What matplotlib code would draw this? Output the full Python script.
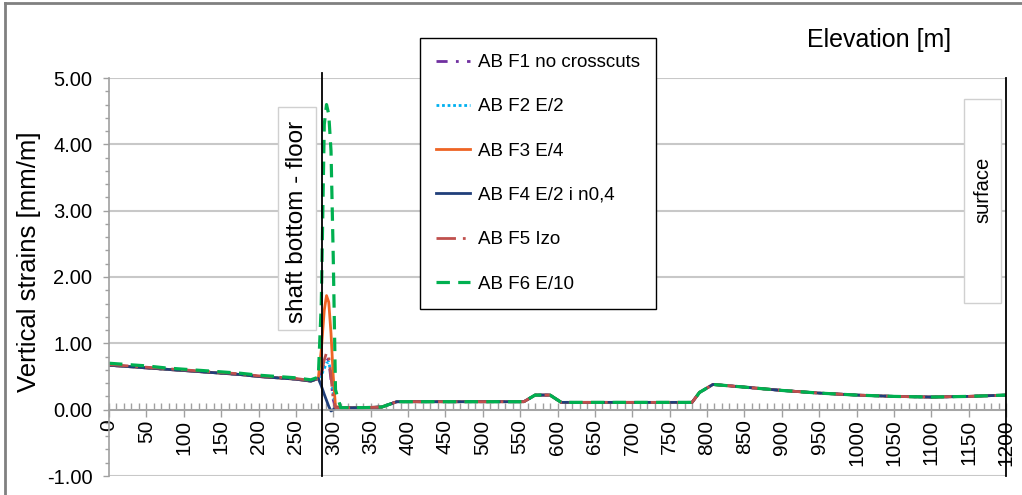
import matplotlib
matplotlib.use("Agg")
import matplotlib.pyplot as plt
from matplotlib.patches import Rectangle
from matplotlib.lines import Line2D
from matplotlib.ticker import MultipleLocator, FormatStrFormatter

plt.rcParams['font.family'] = ['Liberation Sans', 'DejaVu Sans']

# ---------------- data ----------------
elevation = [0, 25, 50, 75, 100, 125, 150, 175, 200, 225, 250, 270, 280,
             284, 288, 291, 294, 297, 300, 303,
             310, 340, 365, 385, 450, 555, 570, 590, 605, 700, 780, 790, 808,
             850, 900, 950, 1000, 1050, 1100, 1150, 1200]

left_part = [0.67, 0.65, 0.63, 0.61, 0.59, 0.57, 0.55, 0.53, 0.50, 0.48, 0.46, 0.43, 0.47]
left_f5 = [0.68, 0.66, 0.64, 0.62, 0.60, 0.58, 0.56, 0.54, 0.51, 0.49, 0.47, 0.44, 0.47]
left_f6 = [0.70, 0.68, 0.66, 0.63, 0.61, 0.59, 0.57, 0.55, 0.52, 0.50, 0.48, 0.45, 0.49]

tail = [0.03, 0.03, 0.04, 0.12, 0.12, 0.12, 0.22, 0.22, 0.11, 0.11, 0.11, 0.26, 0.38,
        0.34, 0.29, 0.25, 0.22, 0.20, 0.19, 0.20, 0.22]

peak_f1 = [0.55, 0.70, 0.78, 0.74, 0.45, 0.15, 0.03]
peak_f2 = [0.52, 0.62, 0.70, 0.72, 0.55, 0.25, 0.03]
peak_f3 = [0.90, 1.50, 1.72, 1.62, 1.15, 0.50, 0.05]
peak_f4 = [0.36, 0.23, 0.14, 0.05, -0.02, 0.00, 0.03]
peak_f5 = [0.55, 0.75, 0.86, 0.80, 0.50, 0.15, 0.03]
peak_f6 = [1.60, 4.30, 4.60, 4.45, 3.90, 2.30, 0.30]

series_names = ["AB F1 no crosscuts", "AB F2 E/2", "AB F3 E/4",
                "AB F4 E/2 i n0,4", "AB F5 Izo", "AB F6 E/10"]
f1 = left_part + peak_f1 + tail
f2 = left_part + peak_f2 + tail
f3 = left_part + peak_f3 + tail
f4 = left_part + peak_f4 + tail
f5 = left_f5 + peak_f5 + tail
f6 = left_f6 + peak_f6 + tail

shaft_bottom = 285
surface = 1200

# ---------------- figure ----------------
fig = plt.figure(figsize=(10.22, 4.95), dpi=100)
ax = fig.add_axes([109 / 1022, 1 - 476 / 495, (1006 - 109) / 1022, (476 - 78) / 495])

styles = [
    dict(color="#7030A0", linestyle=(0, (4, 3, 1, 3)), lw=2.0),
    dict(color="#00B0F0", linestyle=(0, (1, 1)), lw=2.0),
    dict(color="#EE6424", linestyle="-", lw=2.0),
    dict(color="#203F7A", linestyle="-", lw=2.0),
    dict(color="#C0504D", linestyle=(0, (7, 2.5, 1, 2.5)), lw=2.0),
    dict(color="#00B050", linestyle=(0, (4.2, 2.6)), lw=2.3),
]
handles = []
for ys, name, st in zip([f1, f2, f3, f4, f5, f6], series_names, styles):
    ln, = ax.plot(elevation, ys, label=name, **st)
    handles.append(ln)

ax.set_xlim(0, 1200)
ax.set_ylim(-1, 5)

ax.yaxis.set_major_locator(MultipleLocator(1))
ax.yaxis.set_minor_locator(MultipleLocator(0.2))
ax.yaxis.set_major_formatter(FormatStrFormatter('%.2f'))
ax.xaxis.set_major_locator(MultipleLocator(50))
ax.xaxis.set_minor_locator(MultipleLocator(10))

ax.spines['top'].set_visible(False)
ax.spines['right'].set_visible(False)
ax.spines['bottom'].set_position(('data', 0))
for s in ('left', 'bottom'):
    ax.spines[s].set_color('#A0A0A0')
    ax.spines[s].set_linewidth(1.2)

ax.grid(axis='y', which='major', color='#C8C8C8', lw=1.5)
ax.set_axisbelow(True)

ax.tick_params(axis='y', which='major', direction='out', length=4, width=1, color='#A0A0A0',
               labelsize=14.5, pad=8)
ax.tick_params(axis='y', which='minor', direction='out', length=3, width=1, color='#A0A0A0')
ax.tick_params(axis='x', which='major', direction='inout', length=10, width=1, color='#A0A0A0',
               labelsize=15, pad=2, labelrotation=90)
ax.tick_params(axis='x', which='minor', direction='in', length=5, width=1, color='#A0A0A0')
for lab in ax.get_xticklabels():
    lab.set_verticalalignment('top')

# vertical reference lines
ax.axvline(shaft_bottom, ymin=0, ymax=1.012, color='black', lw=1.3, clip_on=False, zorder=5)
ax.axvline(surface, ymin=0, ymax=1.0, color='black', lw=1.3, clip_on=False, zorder=5)

# label boxes
fig.patches.append(Rectangle((278 / 1022, 1 - 330 / 495), 38 / 1022, 223 / 495,
                             transform=fig.transFigure, fill=True, facecolor='white',
                             edgecolor='#D0D0D0', lw=1, zorder=3))
fig.text(297 / 1022, 1 - 222 / 495, "shaft bottom - floor", rotation=90, fontsize=17.5,
         ha='center', va='center', zorder=4)
fig.patches.append(Rectangle((964 / 1022, 1 - 303 / 495), 37 / 1022, 204 / 495,
                             transform=fig.transFigure, fill=True, facecolor='white',
                             edgecolor='#D0D0D0', lw=1, zorder=3))
fig.text(983 / 1022, 1 - 190 / 495, "surface", rotation=90, fontsize=14.5,
         ha='center', va='center', zorder=4)

# axis labels
fig.text(29 / 1022, 1 - 262 / 495, "Vertical strains [mm/m]", rotation=90, fontsize=18.5,
         ha='center', va='center')
fig.text(879 / 1022, 1 - 40 / 495, "Elevation [m]", fontsize=18, ha='center', va='center')

# legend
leg = fig.legend(handles=handles, loc='upper left', bbox_to_anchor=(420 / 1022, 1 - 38 / 495),
                 bbox_transform=fig.transFigure, fontsize=13.5, frameon=True, fancybox=False,
                 edgecolor='black', framealpha=1, borderaxespad=0, handlelength=1.8,
                 handletextpad=0.45, labelspacing=1.45, borderpad=0.85)
leg.get_frame().set_linewidth(1.0)
leg.set_zorder(10)

# outer border (left and top)
fig.add_artist(Line2D([5 / 1022, 5 / 1022], [0, 1 - 3 / 495], transform=fig.transFigure,
                      color='#808080', lw=2))
fig.add_artist(Line2D([5 / 1022, 1], [1 - 3 / 495, 1 - 3 / 495], transform=fig.transFigure,
                      color='#808080', lw=2))

fig.savefig("out.png", dpi=100)
